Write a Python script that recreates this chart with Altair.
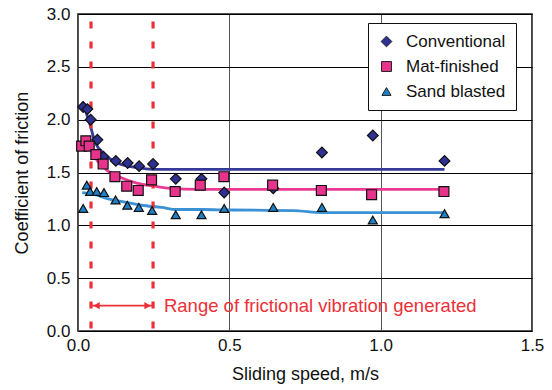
import altair as alt
import pandas as pd

FONT = "Liberation Sans"

series = ["Conventional", "Mat-finished", "Sand blasted"]
point_colors = ["#2e3192", "#e8338c", "#1e80c6"]
line_colors = ["#363b98", "#ea3a91", "#3a91d6"]
shapes = ["diamond", "square", "triangle-up"]
sizes = [115, 82, 125]

conv_x = [0.017, 0.031, 0.042, 0.064, 0.084, 0.125, 0.164, 0.202, 0.248, 0.323, 0.408, 0.483, 0.645, 0.806, 0.974, 1.211]
conv_y = [2.12, 2.10, 2.00, 1.81, 1.65, 1.61, 1.59, 1.56, 1.58, 1.44, 1.44, 1.31, 1.35, 1.69, 1.85, 1.61]

mat_x = [0.012, 0.026, 0.037, 0.059, 0.083, 0.122, 0.161, 0.199, 0.243, 0.321, 0.404, 0.482, 0.643, 0.804, 0.970, 1.209]
mat_y = [1.75, 1.80, 1.75, 1.67, 1.58, 1.46, 1.37, 1.33, 1.43, 1.32, 1.38, 1.46, 1.38, 1.33, 1.29, 1.32]

sand_x = [0.017, 0.029, 0.040, 0.062, 0.086, 0.124, 0.163, 0.201, 0.245, 0.323, 0.408, 0.483, 0.645, 0.806, 0.974, 1.211]
sand_y = [1.16, 1.38, 1.32, 1.32, 1.31, 1.24, 1.19, 1.17, 1.14, 1.10, 1.10, 1.16, 1.17, 1.17, 1.05, 1.11]

conv_fit_x = [0.015, 0.040, 0.056, 0.089, 0.122, 0.166, 0.210, 0.250, 0.350, 1.211]
conv_fit_y = [2.17, 1.95, 1.79, 1.67, 1.60, 1.56, 1.54, 1.53, 1.53, 1.53]

mat_fit_x = [0.040, 0.067, 0.100, 0.139, 0.194, 0.254, 0.304, 0.400, 1.211]
mat_fit_y = [1.72, 1.60, 1.51, 1.455, 1.40, 1.37, 1.35, 1.34, 1.34]

sand_fit_x = [0.014, 0.056, 0.100, 0.155, 0.210, 0.276, 0.325, 0.410, 0.500, 0.710, 0.810, 1.211]
sand_fit_y = [1.31, 1.29, 1.25, 1.22, 1.19, 1.17, 1.15, 1.15, 1.145, 1.14, 1.12, 1.12]

range_x = [0.043, 0.248]
range_top = 2.93
arrow_y = 0.24
annotation = "Range of frictional vibration generated"
annotation_x = 0.284

x_ticks = [0.0, 0.5, 1.0, 1.5]
y_ticks = [0.0, 0.5, 1.0, 1.5, 2.0, 2.5, 3.0]

RED = "#ec3038"

pts = pd.DataFrame(
    [{"s": series[0], "x": a, "y": b} for a, b in zip(conv_x, conv_y)]
    + [{"s": series[1], "x": a, "y": b} for a, b in zip(mat_x, mat_y)]
    + [{"s": series[2], "x": a, "y": b} for a, b in zip(sand_x, sand_y)]
)
fit_sets = [
    pd.DataFrame({"x": conv_fit_x, "y": conv_fit_y}),
    pd.DataFrame({"x": mat_fit_x, "y": mat_fit_y}),
    pd.DataFrame({"x": sand_fit_x, "y": sand_fit_y}),
]

xs = alt.Scale(domain=[0, 1.5], nice=False)
ys = alt.Scale(domain=[0, 3], nice=False)

x_enc = alt.X(
    "x:Q", scale=xs,
    axis=alt.Axis(
        title="Sliding speed, m/s", values=x_ticks, format=".1f",
        grid=True, gridColor="#555555", gridWidth=1,
        domain=False, ticks=False, labelPadding=6,
        labelFontSize=17, titleFontSize=18, titlePadding=12,
        labelColor="#111", titleColor="#111", titleFontWeight="normal",
        labelFlush=False,
    ),
)
y_enc = alt.Y(
    "y:Q", scale=ys,
    axis=alt.Axis(
        title="Coefficient of friction", values=y_ticks, format=".1f",
        grid=True, gridColor="#000000", gridWidth=1,
        domain=False, ticks=False, labelPadding=8,
        labelFontSize=17, titleFontSize=18, titlePadding=15,
        labelColor="#111", titleColor="#111", titleFontWeight="normal",
        labelFlush=False,
    ),
)

line_layers = []
for i, df in enumerate(fit_sets):
    enc_x = x_enc if i == 0 else alt.X("x:Q")
    enc_y = y_enc if i == 0 else alt.Y("y:Q")
    line_layers.append(
        alt.Chart(df).mark_line(strokeWidth=2.8, interpolate="monotone", color=line_colors[i]).encode(
            x=enc_x, y=enc_y
        )
    )

points = alt.Chart(pts).mark_point(filled=True, opacity=1, stroke="#111111", strokeWidth=1.2).encode(
    x="x:Q", y="y:Q",
    color=alt.Color("s:N", scale=alt.Scale(domain=series, range=point_colors), title=None,
                    legend=alt.Legend(orient="none", legendX=290, legendY=9)),
    shape=alt.Shape("s:N", scale=alt.Scale(domain=series, range=shapes), title=None),
    size=alt.Size("s:N", scale=alt.Scale(domain=series, range=sizes), title=None),
)

vlines_df = pd.DataFrame({"x": range_x, "y0": [0, 0], "y1": [range_top, range_top]})
vlines = alt.Chart(vlines_df).mark_rule(color=RED, strokeWidth=3.2, strokeDash=[7, 13]).encode(
    x="x:Q", y="y1:Q", y2="y0:Q"
)

arrow_df = pd.DataFrame({"x0": [range_x[0] + 0.004], "x1": [range_x[1] - 0.004], "y": [arrow_y]})
arrow_line = alt.Chart(arrow_df).mark_rule(color=RED, strokeWidth=1.8).encode(
    x="x0:Q", x2="x1:Q", y="y:Q"
)
left_df = pd.DataFrame({"x": [range_x[0] + 0.018], "y": [arrow_y]})
right_df = pd.DataFrame({"x": [range_x[1] - 0.018], "y": [arrow_y]})
head_l = alt.Chart(left_df).mark_point(filled=True, color=RED, opacity=1, size=55, shape="triangle-left").encode(
    x="x:Q", y="y:Q")
head_r = alt.Chart(right_df).mark_point(filled=True, color=RED, opacity=1, size=55, shape="triangle-right").encode(
    x="x:Q", y="y:Q")

text_df = pd.DataFrame({"x": [annotation_x], "y": [arrow_y], "t": [annotation]})
text = alt.Chart(text_df).mark_text(
    align="left", baseline="middle", color=RED, fontSize=18.5, font=FONT
).encode(x="x:Q", y="y:Q", text="t:N")

chart = alt.layer(*line_layers, vlines, arrow_line, head_l, head_r, text, points).properties(
    width=454, height=317,
    autosize=alt.AutoSizeParams(type="none"),
    padding={"left": 78, "top": 14, "right": 20, "bottom": 59},
).configure(
    font=FONT,
    background="white",
).configure_view(
    stroke="#1a1a1a", strokeWidth=1.6,
).configure_legend(
    strokeColor="#111111", fillColor="white", padding=10,
    labelFont=FONT, labelFontSize=17, labelColor="#111", labelOffset=11, rowPadding=7,
    symbolStrokeColor="#222222", symbolStrokeWidth=1,
    cornerRadius=0, labelLimit=300,
)

chart.save("out.html", embed_options={"renderer": "svg", "actions": False})
